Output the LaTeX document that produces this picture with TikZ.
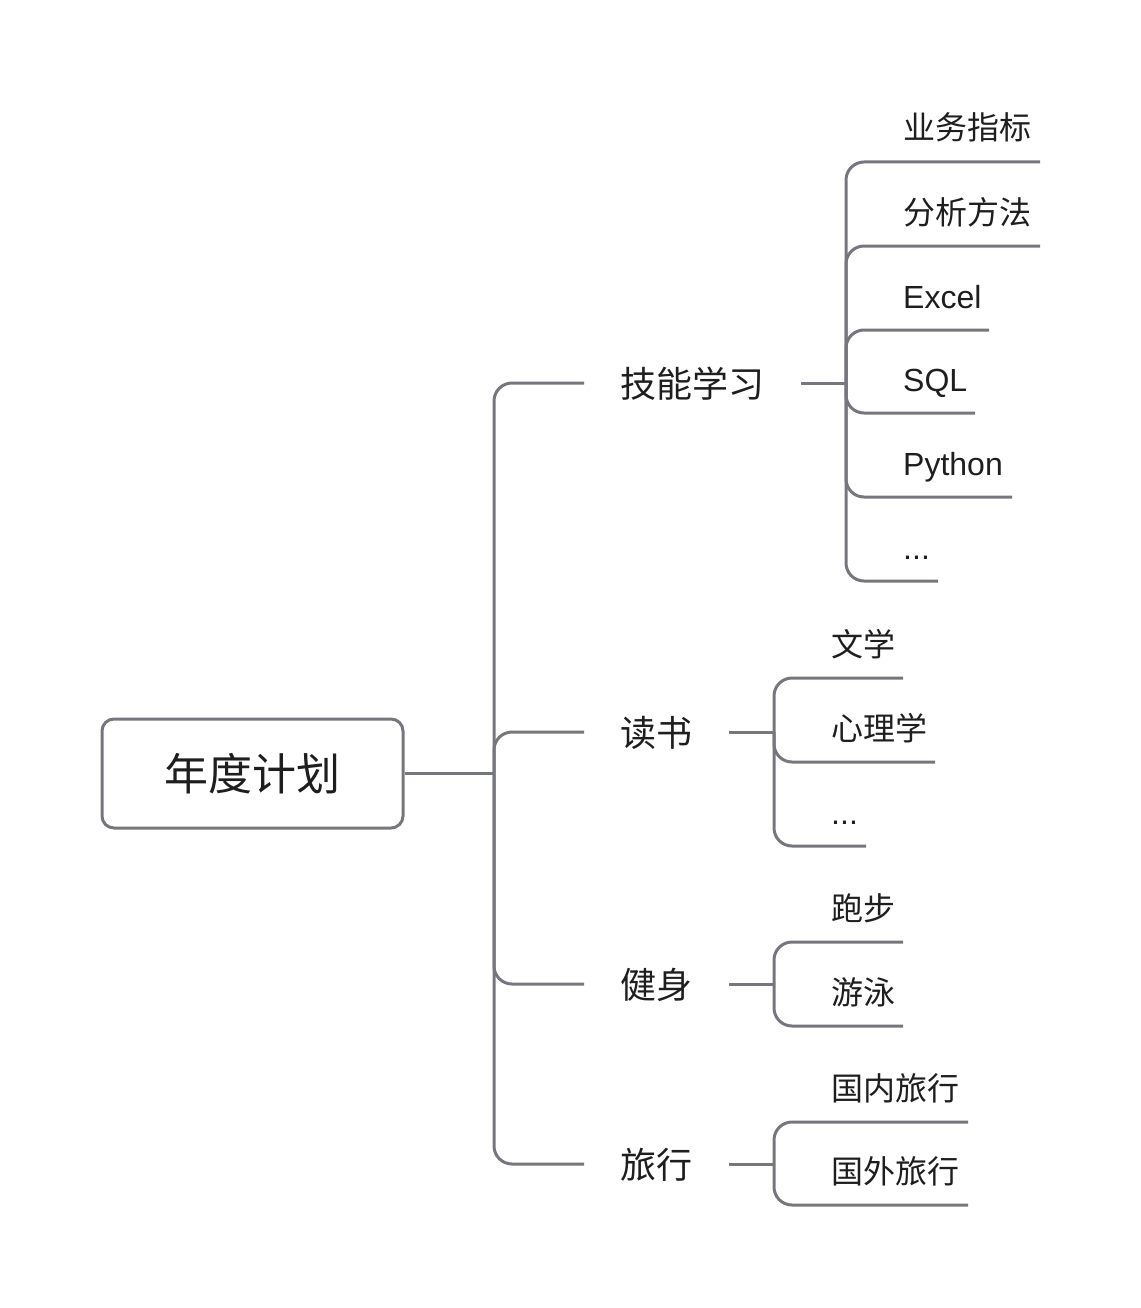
\documentclass[tikz,border=0pt]{standalone}
\usepackage{fontspec}
\setmainfont{Liberation Sans}
\newfontfamily\cjk{Noto Sans CJK SC}
\definecolor{linegray}{RGB}{118,118,126}
\definecolor{ink}{RGB}{30,30,30}
\begin{document}
\begin{tikzpicture}[x=1pt,y=-1pt,
  conn/.style={draw=linegray,line width=3pt,rounded corners=18pt},
  leafen/.style={anchor=base west,inner sep=0pt,text=ink,font=\fontsize{32}{38}\selectfont},
  leafzh/.style={anchor=base west,inner sep=0pt,text=ink,font=\cjk\fontsize{32}{38}\selectfont},
  topic/.style={anchor=base west,inner sep=0pt,text=ink,font=\cjk\fontsize{36}{42}\selectfont},
  rootbox/.style={draw=linegray,line width=3pt,rounded corners=12pt,minimum width=301pt,minimum height=109pt,inner sep=0pt,text=ink,font=\cjk\fontsize{44}{50}\selectfont}]
\useasboundingbox (0,0) rectangle (1140,1308);

% root
\node[rootbox] (root) at (252.5,773.5) {年度计划};
\coordinate (mj) at (494,773.5);
\draw[conn] (root.east) -- (mj);

% first-level branches
\coordinate (b1) at (584,383);
\coordinate (b2) at (584,732);
\coordinate (b3) at (584,984);
\coordinate (b4) at (584,1164);
\draw[conn] (mj) |- (b1);
\draw[conn] (mj) |- (b2);
\draw[conn] (mj) |- (b3);
\draw[conn] (mj) |- (b4);

\node[topic] (t1) at (620,397) {技能学习};
\node[topic] (t2) at (620,746) {读书};
\node[topic] (t3) at (620,998) {健身};
\node[topic] (t4) at (620,1178) {旅行};

% short stubs and junctions
\coordinate (s1) at (801,383);  \coordinate (j1) at (846,383);
\coordinate (s2) at (729,732);  \coordinate (j2) at (774,732);
\coordinate (s3) at (729,984);  \coordinate (j3) at (774,984);
\coordinate (s4) at (729,1164); \coordinate (j4) at (774,1164);
\draw[conn] (s1) -- (j1);
\draw[conn] (s2) -- (j2);
\draw[conn] (s3) -- (j3);
\draw[conn] (s4) -- (j4);

% leaves of 技能学习
\node[leafzh] (l11) at (903,140) {业务指标};
\node[leafzh] (l12) at (903,224) {分析方法};
\node[leafen] (l13) at (903,308) {Excel};
\node[leafen] (l14) at (903,391) {SQL};
\node[leafen] (l15) at (903,475) {Python};
\node[leafen] (l16) at (903,559) {...};
\coordinate (e11) at (1040,162);
\coordinate (e12) at (1040,246);
\coordinate (e13) at (989,330);
\coordinate (e14) at (975,413);
\coordinate (e15) at (1012,497);
\coordinate (e16) at (938,581);
\foreach \i in {11,12,13,14,15,16} \draw[conn] (j1) |- (e\i);

% leaves of 读书
\node[leafzh] (l21) at (831,656) {文学};
\node[leafzh] (l22) at (831,740) {心理学};
\node[leafen] (l23) at (831,824) {...};
\coordinate (e21) at (903,678);
\coordinate (e22) at (935,762);
\coordinate (e23) at (866,846);
\foreach \i in {21,22,23} \draw[conn] (j2) |- (e\i);

% leaves of 健身
\node[leafzh] (l31) at (831,920) {跑步};
\node[leafzh] (l32) at (831,1004) {游泳};
\coordinate (e31) at (903,942);
\coordinate (e32) at (903,1026);
\foreach \i in {31,32} \draw[conn] (j3) |- (e\i);

% leaves of 旅行
\node[leafzh] (l41) at (831,1100) {国内旅行};
\node[leafzh] (l42) at (831,1183) {国外旅行};
\coordinate (e41) at (968,1122);
\coordinate (e42) at (968,1205);
\foreach \i in {41,42} \draw[conn] (j4) |- (e\i);
\end{tikzpicture}
\end{document}
